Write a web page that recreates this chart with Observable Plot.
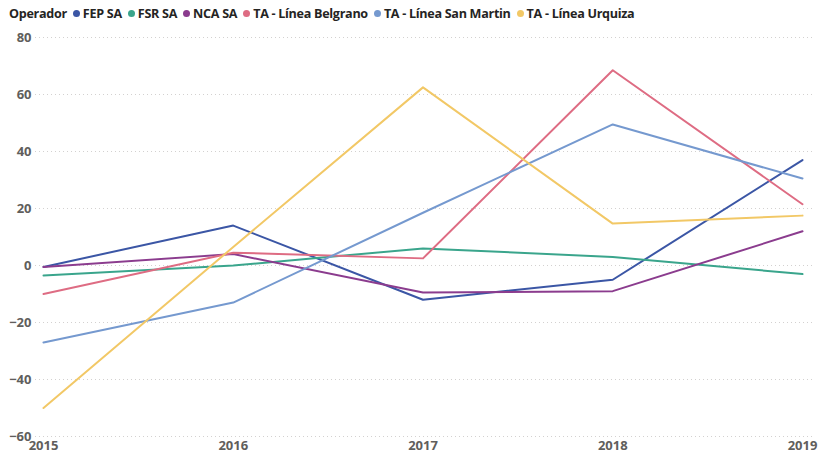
<!DOCTYPE html>
<html>
<head>
<meta charset="utf-8">
<script src="https://cdn.jsdelivr.net/npm/d3@7"></script>
<script src="https://cdn.jsdelivr.net/npm/@observablehq/plot@0.6"></script>
<style>
  html, body { margin: 0; padding: 0; background: #fff; }
  body { width: 819px; height: 455px; overflow: hidden; font-family: "Open Sans", sans-serif; }
  #legend { height: 22px; display: flex; align-items: center; padding-left: 9px; padding-top: 2px; font-size: 12.6px; font-weight: 700; color: #252423; white-space: nowrap; letter-spacing: -0.3px; }
  #legend .title { margin-right: 6px; }
  #legend .item { display: inline-flex; align-items: center; margin-right: 6px; }
  #legend .dot { width: 7px; height: 7px; border-radius: 50%; display: inline-block; margin-right: 3px; }
  svg text { font-family: "Open Sans", sans-serif; }
</style>
</head>
<body>
<div id="legend"></div>
<div id="chart"></div>
<script>
const years = [2015, 2016, 2017, 2018, 2019];
const operators = ["FEP SA", "FSR SA", "NCA SA", "TA - Línea Belgrano", "TA - Línea San Martin", "TA - Línea Urquiza"];
const colors = ["#3B56A5", "#3AA58C", "#8B3C8E", "#DE6C83", "#7599CF", "#F2C866"];
const fepSA = [-0.5, 14, -12, -5, 37];
const fsrSA = [-3.5, 0, 6, 3, -3];
const ncaSA = [-0.5, 4, -9.5, -9, 12];
const taBelgrano = [-10, 4.5, 2.5, 68.5, 21.5];
const taSanMartin = [-27, -13, 18.5, 49.5, 30.5];
const taUrquiza = [-50, 6.5, 62.5, 14.7, 17.5];
const yTicks = [-60, -40, -20, 0, 20, 40, 60, 80];
const legendTitle = "Operador";

const seriesValues = [fepSA, fsrSA, ncaSA, taBelgrano, taSanMartin, taUrquiza];
const rows = [];
operators.forEach((op, i) => years.forEach((yr, j) => rows.push({ op, year: yr, value: seriesValues[i][j] })));

// Legend
const lg = d3.select("#legend");
lg.append("span").attr("class", "title").text(legendTitle);
operators.forEach((op, i) => {
  const it = lg.append("span").attr("class", "item");
  it.append("span").attr("class", "dot").style("background", colors[i]);
  it.append("span").text(op);
});

const chart = Plot.plot({
  width: 819,
  height: 431,
  marginTop: 13,
  marginBottom: 19,
  marginLeft: 43,
  marginRight: 17,
  style: { fontSize: "13px", fontWeight: 700, color: "#605E5C", background: "white" },
  x: { domain: [2015, 2019], ticks: years, tickFormat: "d", label: null, tickSize: 0, tickPadding: 5 },
  y: { domain: [-60, 80], ticks: yTicks, label: null, tickSize: 0, tickPadding: 12 },
  color: { domain: operators, range: colors },
  marks: [
    Plot.ruleY(yTicks, { stroke: "#C8C6C4", strokeOpacity: 0.8, strokeDasharray: "1,3", insetLeft: -8, insetRight: -10 }),
    Plot.axisY({ ticks: yTicks, tickSize: 0, tickPadding: 12, fontSize: 13, fontWeight: 700, fill: "#605E5C" }),
    Plot.axisX({ ticks: years, tickFormat: "d", tickSize: 0, tickPadding: 4, fontSize: 13, fontWeight: 700, fill: "#605E5C" }),
    Plot.line(rows, { x: "year", y: "value", z: "op", stroke: "op", strokeWidth: 2, curve: "linear" })
  ]
});
document.getElementById("chart").appendChild(chart);
</script>
</body>
</html>
